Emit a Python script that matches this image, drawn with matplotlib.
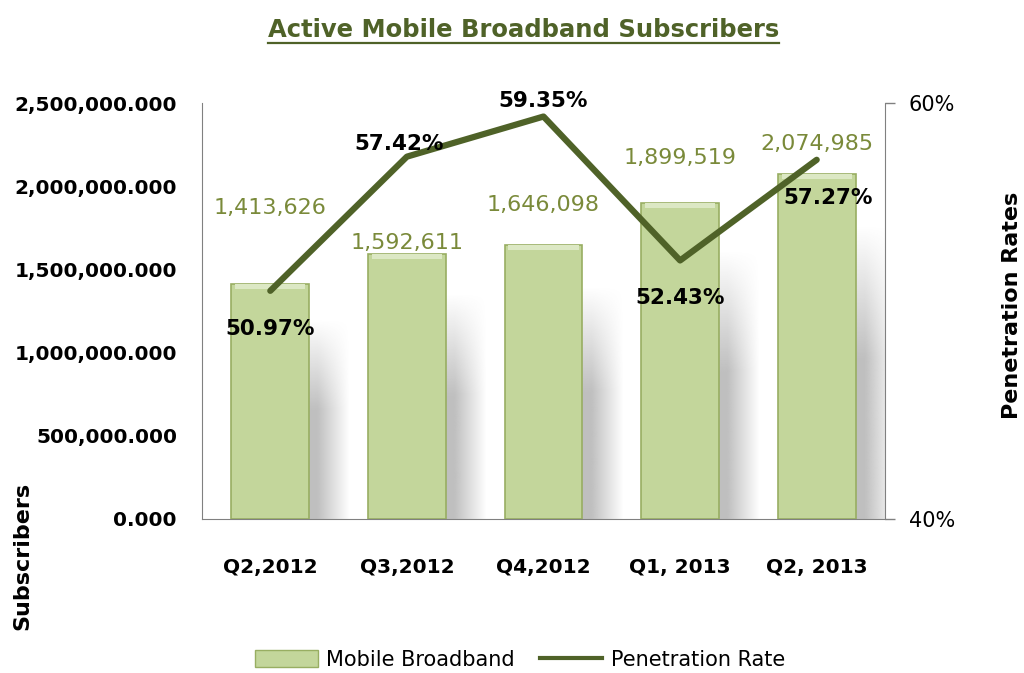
import numpy as np
import matplotlib
matplotlib.use("Agg")
import matplotlib.pyplot as plt
from matplotlib.lines import Line2D
from matplotlib.patches import Patch
from matplotlib.ticker import FuncFormatter, FixedLocator

# ---- data ----
categories = ["Q2,2012", "Q3,2012", "Q4,2012", "Q1, 2013", "Q2, 2013"]
subscribers = [1413626, 1592611, 1646098, 1899519, 2074985]
penetration = [50.97, 57.42, 59.35, 52.43, 57.27]

# ---- style ----
MAIN = "DejaVu Sans"
BAR = "#C3D69B"
BAR_EDGE = "#98AE62"
LINE = "#4F6228"
VAL = "#7A8A3A"

# label offsets (points) for bar values and rate labels
bar_lab_off = [47, 1, 22, 25, 14]
rate_lab_off = [(0, -20), (-6, 2), (0, 4), (0, -20), (8, -20)]
rate_va = ["top", "bottom", "bottom", "top", "top"]

fig = plt.figure(figsize=(10.24, 6.73), dpi=100)
ax = fig.add_axes([202/1024, 1-519/673, (885-202)/1024, (519-103)/673])
ax2 = ax.twinx()

x = np.arange(len(categories))
w = 0.57

# shadows behind bars
ny, nx = 120, 60
yy = np.linspace(0, 1, ny)[:, None]
xx = np.linspace(0, 1, nx)[None, :]
va_ = np.clip((1 - yy) / 0.45, 0, 1)
ha_ = np.clip((1 - xx) / 0.4, 0, 1)
alpha = 0.62 * va_ * ha_
rgba = np.zeros((ny, nx, 4))
rgba[..., :3] = 0.6
rgba[..., 3] = alpha
for xi, h in zip(x, subscribers):
    ax.imshow(rgba, origin="lower", aspect="auto", interpolation="bilinear",
              extent=(xi, xi + w / 2 + 0.3, 0, h * 0.85), zorder=1)
ax.set_xlim(-0.5, len(categories) - 0.5)
ax.set_ylim(0, 2500000)
ax2.set_ylim(40, 60)

ax.bar(x, subscribers, width=w, color=BAR, edgecolor=BAR_EDGE, linewidth=1.2, zorder=2)
# light bevel on top of the bars
cap = 2500000 * 0.012
ax.bar(x, [cap] * len(x), bottom=[s - cap for s in subscribers], width=w * 0.9,
       color="#DCE8C4", linewidth=0, zorder=3)

for xi, s, off in zip(x, subscribers, bar_lab_off):
    ax.annotate(f"{s:,}", (xi, s), xytext=(0, off), textcoords="offset points",
                ha="center", va="bottom", fontsize=16, color=VAL, family=MAIN, zorder=6)

ax2.plot(x, penetration, color=LINE, linewidth=4.5, solid_capstyle="round", zorder=5)
for xi, p, off, v in zip(x, penetration, rate_lab_off, rate_va):
    ax2.annotate(f"{p:.2f}%", (xi, p), xytext=off, textcoords="offset points",
                 ha="center", va=v, fontsize=15.5, fontweight="bold", color="black",
                 family=MAIN, zorder=7)

ax.set_zorder(1)
ax2.set_zorder(2)
ax2.patch.set_visible(False)

# axes styling
for a in (ax, ax2):
    a.spines["top"].set_visible(False)
ax.spines["left"].set_color("#808080")
ax.spines["bottom"].set_color("#808080")
ax.spines["right"].set_visible(False)
ax2.spines["left"].set_visible(False)
ax2.spines["bottom"].set_visible(False)
ax2.spines["right"].set_color("#808080")

ax.yaxis.set_major_locator(FixedLocator(np.arange(0, 2500001, 500000)))
ax.yaxis.set_major_formatter(FuncFormatter(lambda v, p: f"{v:,.3f}"))
ax.tick_params(axis="y", length=0, pad=18, labelsize=14.5)
ax.set_xticks(x)
ax.set_xticklabels(categories)
ax.tick_params(axis="x", length=0, pad=28, labelsize=14.5)
for lab in ax.get_yticklabels() + ax.get_xticklabels():
    lab.set_fontweight("bold")
    lab.set_family(MAIN)

ax2.yaxis.set_major_locator(FixedLocator([40, 60]))
ax2.yaxis.set_major_formatter(FuncFormatter(lambda v, p: f"{v:.0f}%"))
ax2.tick_params(axis="y", length=7, width=1, color="#808080", pad=10, labelsize=15)

fig.text(22/1024, 1-556/673, "Subscribers", rotation=90, ha="center", va="center",
         fontsize=16, fontweight="bold", family=MAIN)
fig.text(1012/1024, 1-305/673, "Penetration Rates", rotation=90, ha="center", va="center",
         fontsize=16, fontweight="bold", family=MAIN)

title = fig.text(0.511, 1-30/673, "Active Mobile Broadband Subscribers", ha="center", va="center",
                 fontsize=17.5, fontweight="bold", color=LINE, family=MAIN)

handles = [Patch(facecolor=BAR, edgecolor=BAR_EDGE), Line2D([], [], color=LINE, linewidth=3)]
fig.legend(handles, ["Mobile Broadband", "Penetration Rate"], loc="center",
           bbox_to_anchor=(0.508, 1-660/673), ncol=2, frameon=False, fontsize=15,
           handlelength=3.0, handleheight=0.9, columnspacing=1.2, handletextpad=0.4)

# underline title
fig.canvas.draw()
bb = title.get_window_extent()
yline = (bb.y0 - 1) / fig.bbox.height
fig.add_artist(Line2D([bb.x0 / fig.bbox.width, bb.x1 / fig.bbox.width], [yline, yline],
                      transform=fig.transFigure, color=LINE, linewidth=1.6))

fig.savefig("out.png", dpi=100)
